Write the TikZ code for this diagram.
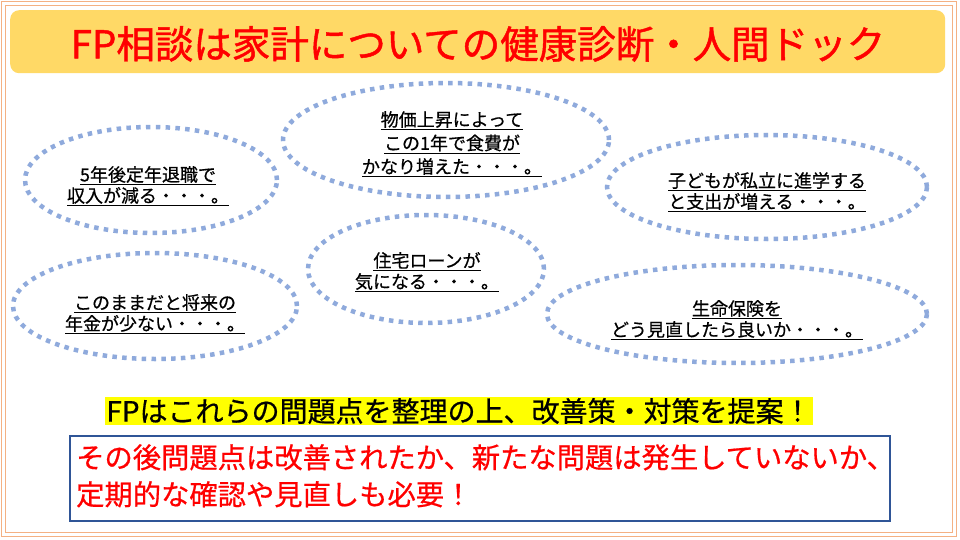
\documentclass[tikz,border=0pt]{standalone}
\usepackage{fontspec}
\setmainfont{Noto Sans CJK JP}
\newfontfamily\heavyfont{Noto Sans CJK JP}[FakeBold=1.2]
\newfontfamily\midfont{Noto Sans CJK JP}[FakeBold=0.6]
\usetikzlibrary{shapes.geometric}
\definecolor{frameor}{HTML}{F4B183}
\definecolor{titlebg}{HTML}{FFD966}
\definecolor{dotblue}{HTML}{8FAADC}
\definecolor{boxblue}{HTML}{2F5597}
\definecolor{hiyellow}{HTML}{FFFF00}
\tikzset{
  bubble/.style={ellipse, draw=dotblue, line width=4.5pt, dash pattern=on 4.5pt off 5.3pt, inner sep=0pt},
  bubtext/.style={align=center, font=\midfont\fontsize{18}{21}\selectfont, inner sep=0pt, text=black},
}
\newcommand{\ul}[1]{\underline{#1}}
\begin{document}
\begin{tikzpicture}[x=1pt,y=-1pt]
\useasboundingbox (0,0) rectangle (960,540);
\fill[white] (0,0) rectangle (960,540);
% frame
\draw[frameor, line width=1.5pt] (1.5,1.5) rectangle (956.5,536.5);
\draw[frameor, line width=1.5pt] (5.5,5.5) rectangle (952.5,532.5);
% title
\node[fill=titlebg, rounded corners=9pt, minimum width=935pt, minimum height=63pt, anchor=north west, inner sep=0pt] (titlebox) at (10,10) {};
\node[text=red, font=\heavyfont\fontsize{38.5}{40}\selectfont, inner sep=0pt] (title) at (478,44) {FP相談は家計についての健康診断・人間ドック};
% bubbles
\node[bubble, minimum width=252pt, minimum height=106pt] (b1) at (151,180) {};
\node[bubtext] (t1) at (148,186) {\ul{5年後定年退職で}\\\ul{収入が減る・・・。}};
\node[bubble, minimum width=284pt, minimum height=106pt] (b2) at (155,306) {};
\node[bubtext] (t2) at (155,314) {\ul{このままだと将来の}\\\ul{年金が少ない・・・。}};
\node[bubble, minimum width=326pt, minimum height=114pt] (b3) at (446,140) {};
\node[bubtext, font=\midfont\fontsize{18}{23.5}\selectfont] (t3) at (452,144) {\ul{物価上昇によって}\\\ul{この1年で食費が}\\\ul{かなり増えた・・・。}};
\node[bubble, minimum width=236pt, minimum height=108pt] (b4) at (426,269) {};
\node[bubtext] (t4) at (427,272) {\ul{住宅ローンが}\\\ul{気になる・・・。}};
\node[bubble, minimum width=320pt, minimum height=104pt] (b5) at (767,187) {};
\node[bubtext] (t5) at (767,192) {\ul{子どもが私立に進学する}\\\ul{と支出が増える・・・。}};
\node[bubble, minimum width=380pt, minimum height=98pt] (b6) at (737,314) {};
\node[bubtext] (t6) at (737,320) {\ul{生命保険を}\\\ul{どう見直したら良いか・・・。}};
% proposal
\node[fill=hiyellow, inner sep=1pt, font=\midfont\fontsize{28}{30}\selectfont] (prop) at (459,411) {FPはこれらの問題点を整理の上、改善策・対策を提案！};
% bottom box
\node[draw=boxblue, line width=2pt, minimum width=820pt, minimum height=85pt, anchor=north west, inner sep=0pt] (note) at (69,435) {};
\node[text=red, anchor=north west, align=left, inner sep=0pt, font=\midfont\fontsize{28.3}{37}\selectfont] (notetext) at (76,444) {その後問題点は改善されたか、新たな問題は発生していないか、\\定期的な確認や見直しも必要！};
\end{tikzpicture}
\end{document}
